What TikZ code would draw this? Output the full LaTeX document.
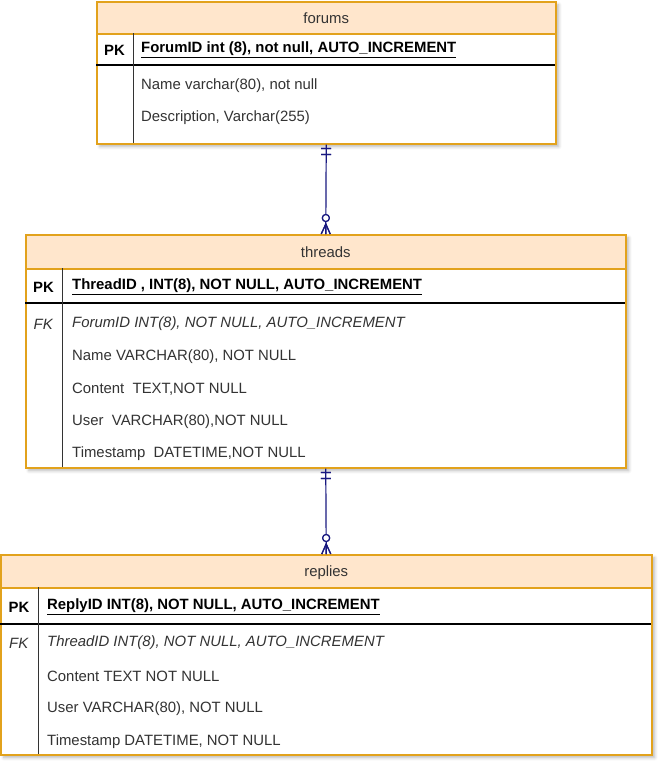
\documentclass[tikz,border=0pt]{standalone}
\usepackage{fontspec}
\setmainfont{Liberation Sans}
\usetikzlibrary{arrows.meta}
\usetikzlibrary{shadows, shadows.blur}
\usetikzlibrary{calc, positioning}
\usetikzlibrary{decorations, decorations.markings}
\definecolor{hdrfill}{RGB}{255,230,204}
\definecolor{hdrline}{RGB}{226,162,28}
\definecolor{relline}{RGB}{24,24,128}
\definecolor{txtgray}{RGB}{51,51,51}
\tikzset{
    onlyone/.style args={#1 #2}{
        decoration={
            markings,
            mark= at position 0 with
                {
                    \draw[#2] (0.4*#1,-0.5*#1) -- (0.4*#1,0.5*#1);
                    \draw[#2] (#1,-0.5*#1) -- (#1,0.5*#1);
                },
        },
        postaction={decorate}
    },
    onlyone/.default={10pt relline}
}
\tikzset{
    zeromany/.style args={#1 #2}{
        decoration={
            markings,
            mark= at position 1 with
                {
                    \draw[#2, fill=white] (-1.6*#1,0pt) circle (0.35*#1);
                    \draw[#2] (0pt,0.45*#1) -- (-#1,0pt) -- (0pt,-0.45*#1);
                    \draw[#2] (-#1,0pt) -- (0pt,0pt);
                },
        },
        postaction={decorate}
    },
    zeromany/.default={10pt relline}
}
\tikzset{
    tblbox/.style={draw=hdrline, fill=white, line width=1.5pt, inner sep=0pt,
        blur shadow={shadow xshift=3pt, shadow yshift=-3pt, shadow blur radius=3pt, shadow opacity=28}},
    tblhead/.style={draw=hdrline, fill=hdrfill, line width=1.5pt, inner sep=0pt, text=txtgray,
        text depth=0pt},
    keycol/.style={inner sep=0pt, text=black, yshift=-2pt},
    field/.style={anchor=west, inner sep=0pt, text=txtgray, yshift=-2pt},
    pkline/.style={line width=1.2pt, black},
    colline/.style={line width=1pt, black!80},
    relation/.style={line width=1.2pt, relline}
}

\begin{document}
\begin{tikzpicture}[x=1pt, y=-1pt, font=\fontsize{14.9}{17}\selectfont]
    \useasboundingbox (0,0) rectangle (665,772);
    % forums
    \node[tblbox, minimum width=459, minimum height=142, anchor=north west] (forums) at (96,1) {};
    \node[tblhead, minimum width=459, minimum height=32, anchor=north] (forumsHead) at (forums.north) {forums};
    \draw[pkline] (96,65) -- (555,65);
    \draw[colline] (133,33) -- (133,143);
    \node[keycol] (forumsPK) at (114.5,48) {\textbf{PK}};
    \node[field, text=black] (forumsID) at (141,48) {\underline{\textbf{ForumID int (8), not null, AUTO\_INCREMENT}}};
    \node[field] (forumsName) at (141,84) {Name varchar(80), not null};
    \node[field] (forumsDesc) at (141,116) {Description, Varchar(255)};

    % threads
    \node[tblbox, minimum width=600, minimum height=233, anchor=north west] (threads) at (25,234) {};
    \node[tblhead, minimum width=600, minimum height=34, anchor=north] (threadsHead) at (threads.north) {threads};
    \draw[pkline] (25,303) -- (625,303);
    \draw[colline] (62,268) -- (62,467);
    \node[keycol] (threadsPK) at (43.5,285) {\textbf{PK}};
    \node[keycol, text=txtgray] (threadsFK) at (43.5,322) {\textit{FK}};
    \node[field, text=black] (threadsID) at (72,285) {\underline{\textbf{ThreadID , INT(8), NOT NULL, AUTO\_INCREMENT}}};
    \node[field] (threadsForum) at (72,322) {\textit{ForumID INT(8), NOT NULL, AUTO\_INCREMENT}};
    \node[field] (threadsName) at (72,355) {Name VARCHAR(80), NOT NULL};
    \node[field] (threadsContent) at (72,387) {Content\ \ TEXT,NOT NULL};
    \node[field] (threadsUser) at (72,420) {User\ \ VARCHAR(80),NOT NULL};
    \node[field] (threadsTime) at (72,452) {Timestamp\ \ DATETIME,NOT NULL};

    % replies
    \node[tblbox, minimum width=651, minimum height=200, anchor=north west] (replies) at (0,554) {};
    \node[tblhead, minimum width=651, minimum height=33, anchor=north] (repliesHead) at (replies.north) {replies};
    \draw[pkline] (0,624) -- (651,624);
    \draw[colline] (38,587) -- (38,754);
    \node[keycol] (repliesPK) at (19,605) {\textbf{PK}};
    \node[keycol, text=txtgray] (repliesFK) at (19,641) {\textit{FK}};
    \node[field, text=black] (repliesID) at (47,605) {\underline{\textbf{ReplyID INT(8), NOT NULL, AUTO\_INCREMENT}}};
    \node[field] (repliesThread) at (47,641) {\textit{ThreadID INT(8), NOT NULL, AUTO\_INCREMENT}};
    \node[field] (repliesContent) at (47,674) {Content TEXT NOT NULL};
    \node[field] (repliesUser) at (47,707) {User VARCHAR(80), NOT NULL};
    \node[field] (repliesTime) at (47,740) {Timestamp DATETIME, NOT NULL};

    % relations
    \draw[relation, onlyone, zeromany] (forums.south) -- (threads.north);
    \draw[relation, onlyone, zeromany] (threads.south) -- (replies.north);
\end{tikzpicture}
\end{document}
